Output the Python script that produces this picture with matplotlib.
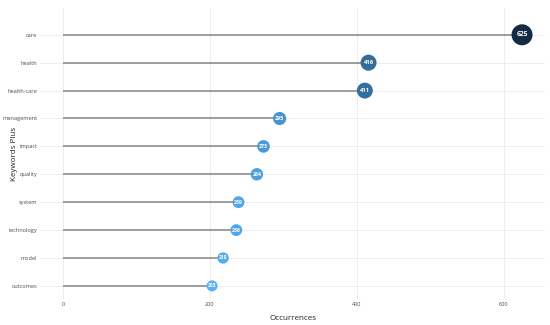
import numpy as np
import matplotlib
matplotlib.use("Agg")
import matplotlib.pyplot as plt
from matplotlib.colors import LinearSegmentedColormap

keywords = ["care", "health", "health-care", "management", "impact",
            "quality", "system", "technology", "model", "outcomes"]
counts = [625, 416, 411, 295, 273, 264, 239, 236, 218, 203]
xticks = [0, 200, 400, 600]

plt.rcParams['font.family'] = ['Open Sans', 'DejaVu Sans']

# ggplot-like continuous scale, reversed (high = dark)
cmap = LinearSegmentedColormap.from_list("gg", ["#56B1F7", "#132B43"])
lo, hi = min(counts), max(counts)
norm = [(c - lo) / (hi - lo) for c in counts]
colors = [cmap(n) for n in norm]
# marker diameter 11..21 px -> points^2
sizes = [((11 + n * 10) * 0.72) ** 2 for n in norm]

ypos = np.arange(len(keywords))[::-1]

fig = plt.figure(figsize=(5.5, 3.25), dpi=100)
ax = fig.add_axes([40 / 550, 1 - 299 / 325, 505 / 550, 291 / 325])

ax.hlines(ypos, 0, counts, color="#858585", linewidth=1.1, zorder=2)
ax.scatter(counts, ypos, s=sizes, c=colors, zorder=3, linewidths=0)
for c, y, n in zip(counts, ypos, norm):
    ax.text(c, y, str(c), color="white", fontsize=3.6 + n * 1.2,
            fontweight="bold", ha="center", va="center", zorder=4)

ax.set_xlim(-31.25, 656.25)
ax.set_ylim(-0.47, 9.96)
ax.set_yticks(ypos)
ax.set_yticklabels(keywords)
ax.set_xticks(xticks)
ax.grid(True, color="#ebebeb", linewidth=0.6, zorder=0)
ax.set_axisbelow(True)
for s in ax.spines.values():
    s.set_visible(False)
ax.tick_params(length=0, labelsize=4.1, labelcolor="#4d4d4d", pad=2)
ax.set_xlabel("Occurrences", fontsize=5.8, color="#222222")
ax.set_ylabel("Keywords Plus", fontsize=5.8, color="#222222")
ax.xaxis.set_label_coords(0.5, -0.055)
ax.yaxis.set_label_coords(-0.044, 0.5)

fig.savefig("out.png", dpi=100, facecolor="white")
